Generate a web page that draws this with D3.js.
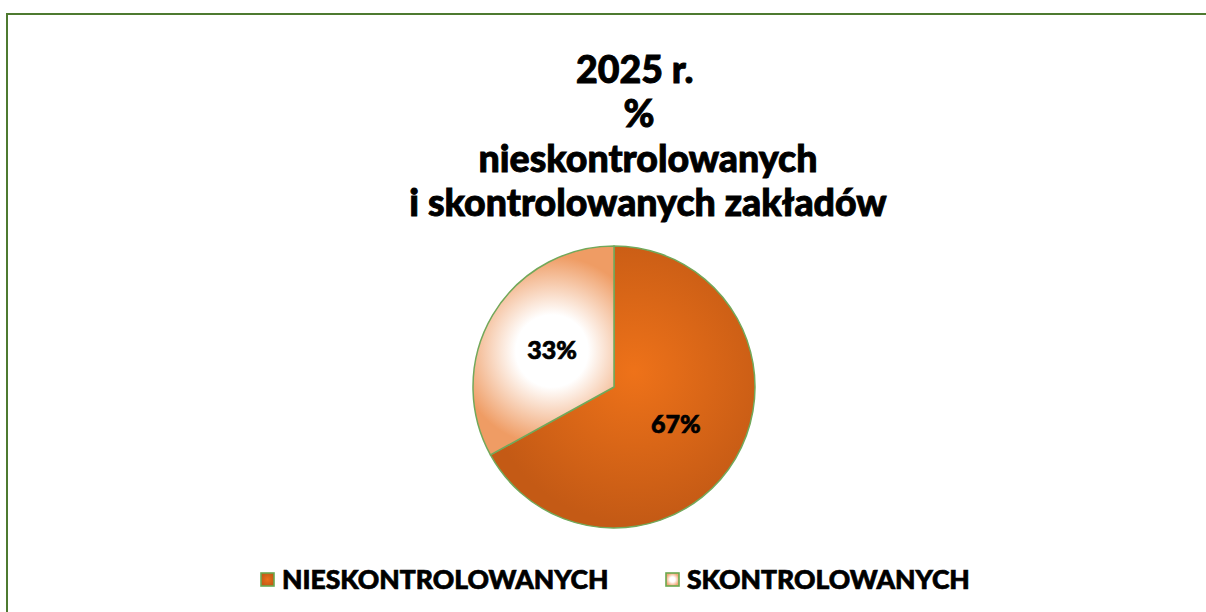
<!DOCTYPE html>
<html>
<head>
<meta charset="utf-8">
<script src="https://cdn.jsdelivr.net/npm/d3@7"></script>
<style>
	body { margin: 0; background: #fff; }
	svg text { font-family: Lato, "Open Sans", sans-serif; font-weight: 900; fill: #000; stroke: #000; white-space: pre; }
</style>
</head>
<body>
<svg id="chart" width="1206" height="612"></svg>
<script>
(function () {
	// dane
	let titleLines = ["2025 r.   ", "%  ", "nieskontrolowanych", "i skontrolowanych zakładów"];
	let categories = ["NIESKONTROLOWANYCH", "SKONTROLOWANYCH"];
	let shares = [67, 33];

	let width = 1206, height = 612;
	let cx = 614, cy = 387, radius = 141;
	let svg = d3.select("#chart");

	// ramka wykresu
	svg.append("rect")
		.attr("x", 7).attr("y", 14)
		.attr("width", width + 20).attr("height", height + 20)
		.attr("fill", "none")
		.attr("stroke", "#4e7a30")
		.attr("stroke-width", 2);

	// tytul
	svg.append("g").selectAll("text")
		.data(titleLines)
		.enter()
		.append("text")
		.attr("x", 648)
		.attr("y", function (d, i) { return 82.5 + i * 44.5; })
		.attr("text-anchor", "middle")
		.style("font-size", "37.5px")
		.style("stroke-width", "0.9px")
		.text(function (d) { return d; });

	// gradienty
	let defs = svg.append("defs");
	let gradOrange = defs.append("radialGradient").attr("id", "gOrange")
		.attr("gradientUnits", "userSpaceOnUse")
		.attr("cx", 20).attr("cy", -15).attr("r", radius + 10);
	gradOrange.append("stop").attr("offset", "0%").attr("stop-color", "#ee7219");
	gradOrange.append("stop").attr("offset", "100%").attr("stop-color", "#c45a15");

	let gradLight = defs.append("radialGradient").attr("id", "gLight")
		.attr("gradientUnits", "userSpaceOnUse")
		.attr("cx", -62).attr("cy", -36).attr("r", 95);
	gradLight.append("stop").attr("offset", "38%").attr("stop-color", "#ffffff");
	gradLight.append("stop").attr("offset", "100%").attr("stop-color", "#ef9c64");

	let legOrange = defs.append("radialGradient").attr("id", "lOrange");
	legOrange.append("stop").attr("offset", "0%").attr("stop-color", "#ec7018");
	legOrange.append("stop").attr("offset", "100%").attr("stop-color", "#c65b15");
	let legLight = defs.append("radialGradient").attr("id", "lLight");
	legLight.append("stop").attr("offset", "40%").attr("stop-color", "#ffffff");
	legLight.append("stop").attr("offset", "100%").attr("stop-color", "#f2a877");

	let fills = ["url(#gOrange)", "url(#gLight)"];
	let legFills = ["url(#lOrange)", "url(#lLight)"];

	// wykres kolowy
	let pie = d3.pie().sort(null).value(function (d) { return d; });
	let arc = d3.arc().innerRadius(0).outerRadius(radius);
	let labelArc = d3.arc().innerRadius(radius * 0.51).outerRadius(radius * 0.51);

	let pieG = svg.append("g").attr("transform", "translate(" + cx + "," + cy + ")");
	let arcs = pie(shares);

	pieG.selectAll("path")
		.data(arcs)
		.enter()
		.append("path")
		.attr("d", arc)
		.attr("fill", function (d, i) { return fills[i]; })
		.attr("stroke", "#72a85a")
		.attr("stroke-width", 1.5)
		.attr("stroke-linejoin", "round");

	pieG.selectAll("text")
		.data(arcs)
		.enter()
		.append("text")
		.attr("transform", function (d) { return "translate(" + labelArc.centroid(d) + ")"; })
		.attr("text-anchor", "middle")
		.attr("dy", "0.36em")
		.style("font-size", "25px")
		.style("stroke-width", "0.7px")
		.text(function (d) { return d.data + "%"; });

	// legenda
	let legX = [261, 666];
	let leg = svg.append("g").selectAll("g")
		.data(categories)
		.enter()
		.append("g")
		.attr("transform", function (d, i) { return "translate(" + legX[i] + ",573)"; });

	leg.append("rect")
		.attr("width", 13).attr("height", 13)
		.attr("fill", function (d, i) { return legFills[i]; })
		.attr("stroke", "#6aa84f")
		.attr("stroke-width", 1.6);

	leg.append("text")
		.attr("x", 21)
		.attr("y", 6.5)
		.attr("dy", "0.36em")
		.style("font-size", "26.5px")
		.style("stroke-width", "0.7px")
		.text(function (d) { return d; });
})();
</script>
</body>
</html>
